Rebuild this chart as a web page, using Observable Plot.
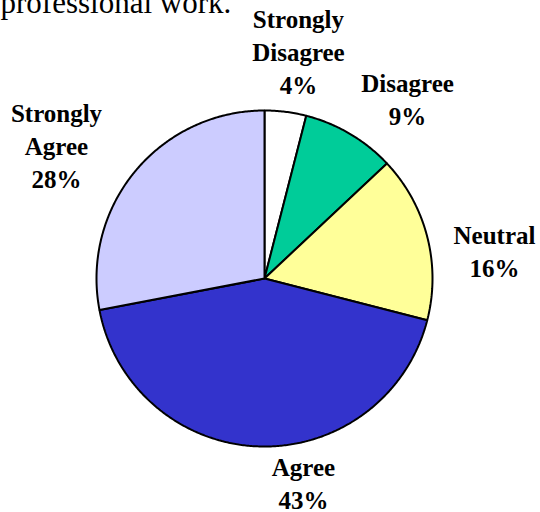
<!DOCTYPE html>
<html><head><meta charset="utf-8">
<script src="https://cdn.jsdelivr.net/npm/d3@7"></script>
<script src="https://cdn.jsdelivr.net/npm/@observablehq/plot@0.6"></script>
<style>html,body{margin:0;padding:0;background:#fff} svg{display:block}</style>
</head><body><div id="chart"></div>
<script>
// ---- data ----
const categories = ["Strongly Disagree", "Disagree", "Neutral", "Agree", "Strongly Agree"];
const shares = [4, 9, 16, 43, 28];
const labelLines = ["Strongly\nDisagree", "Disagree", "Neutral", "Agree", "Strongly\nAgree"];
const titleText = "professional work.";

// ---- styles / layout ----
const colors = ["#FFFFFF", "#00CC99", "#FFFF99", "#3333CC", "#CCCCFF"];
const labelShift = [3.2, 12.3, 14.1, -11.4, -16.2];   // degrees from slice mid-angle
const labelRadius = [1.119, 1.251, 1.369, 1.389, 1.349]; // in pie radii (last baseline)
const W = 540, H = 512, cx = 264, cy = 278, R = 168;
const serif = "'Liberation Serif', 'Times New Roman', serif";

const arcs = d3.pie().sort(null).value(d => d)(shares);

const slicePts = [];
arcs.forEach((p, i) => {
  slicePts.push({cat: categories[i], x: 0, y: 0});
  const n = Math.max(2, Math.ceil((p.endAngle - p.startAngle) / (Math.PI / 360)));
  for (let k = 0; k <= n; k++) {
    const a = p.startAngle + (p.endAngle - p.startAngle) * k / n;
    slicePts.push({cat: categories[i], x: Math.sin(a), y: Math.cos(a)});
  }
});

const labels = arcs.map((p, i) => {
  const a = (p.startAngle + p.endAngle) / 2 + labelShift[i] * Math.PI / 180;
  return {
    cat: categories[i],
    x: labelRadius[i] * Math.sin(a),
    y: labelRadius[i] * Math.cos(a),
    text: labelLines[i] + "\n" + shares[i] + "%"
  };
});

const chart = Plot.plot({
  width: W, height: H,
  margin: 0,
  style: {fontFamily: serif, background: "#fff"},
  x: {domain: [-cx / R, (W - cx) / R], range: [0, W], axis: null},
  y: {domain: [-(H - cy) / R, cy / R], range: [H, 0], axis: null},
  color: {domain: categories, range: colors},
  marks: [
    Plot.line(slicePts, {x: "x", y: "y", z: "cat", fill: "cat", stroke: "black", strokeWidth: 2, curve: "linear-closed", strokeLinejoin: "miter"}),
    Plot.text(labels, {x: "x", y: "y", text: "text", fontFamily: serif, fontSize: 25, fontWeight: 700, lineHeight: 1.32, lineAnchor: "bottom", textAnchor: "middle", fill: "black"}),
    Plot.text([titleText], {frameAnchor: "top-left", dy: 12, lineAnchor: "bottom", textAnchor: "start", fontFamily: serif, fontSize: 31, fill: "black"})
  ]
});
document.getElementById("chart").appendChild(chart);
</script>
</body></html>
